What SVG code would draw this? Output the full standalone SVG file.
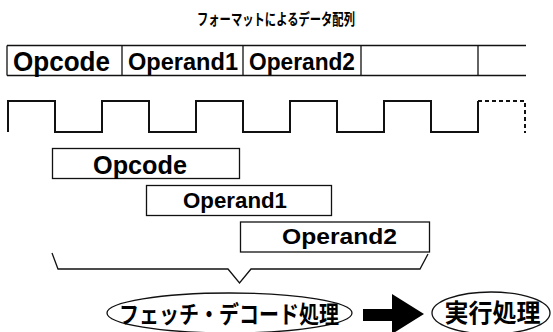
<svg xmlns="http://www.w3.org/2000/svg" width="553" height="332" viewBox="0 0 553 332">
  <style>
    .box { fill: #fff; stroke: #111; stroke-width: 1.3; }
    .lat { font-family: "Liberation Sans", Arial, sans-serif; font-weight: bold; fill: #000; }
    .jp { font-family: "Noto Sans CJK JP", "Noto Sans", sans-serif; font-weight: bold; fill: #000; }
    .wave { fill: none; stroke: #111; stroke-width: 2; }
    .line { fill: none; stroke: #111; stroke-width: 1.3; }
  </style>
  <rect width="553" height="332" fill="#fff"/>

  <!-- title -->
  <g id="title">
    <text class="jp" x="276" y="24.5" font-size="15.5" text-anchor="middle" textLength="158" lengthAdjust="spacingAndGlyphs">フォーマットによるデータ配列</text>
  </g>

  <!-- data format row -->
  <g id="format-row">
    <path class="line" d="M7,45.5 H526 M7,75.5 H526 M7,45.5 V75.5 M122,45.5 V75.5 M243,45.5 V75.5 M361,45.5 V75.5 M478,45.5 V75.5"/>
    <text class="lat" x="13" y="71" font-size="27" textLength="97" lengthAdjust="spacingAndGlyphs">Opcode</text>
    <text class="lat" x="128" y="69.5" font-size="24" textLength="110" lengthAdjust="spacingAndGlyphs">Operand1</text>
    <text class="lat" x="249" y="69.5" font-size="24" textLength="106" lengthAdjust="spacingAndGlyphs">Operand2</text>
  </g>

  <!-- clock waveform -->
  <g id="clock">
    <path class="wave" d="M8,132 V101 H55 V132 H102 V101 H149 V132 H196 V101 H243 V132 H290 V101 H337 V132 H384 V101 H431 V132 H478 V101"/>
    <path class="wave" d="M478,101 H525 V133" stroke-dasharray="4,3"/>
  </g>

  <!-- pipeline stages -->
  <g id="stage-opcode">
    <rect class="box" x="52.5" y="148.5" width="187" height="30"/>
    <text class="lat" x="93" y="173.5" font-size="25" textLength="94" lengthAdjust="spacingAndGlyphs">Opcode</text>
  </g>
  <g id="stage-operand1">
    <rect class="box" x="146.5" y="185.5" width="185" height="30"/>
    <text class="lat" x="183" y="207.5" font-size="22" textLength="104" lengthAdjust="spacingAndGlyphs">Operand1</text>
  </g>
  <g id="stage-operand2">
    <rect class="box" x="240.5" y="222" width="189" height="30"/>
    <text class="lat" x="282" y="244" font-size="22" textLength="115" lengthAdjust="spacingAndGlyphs">Operand2</text>
  </g>

  <!-- connectors -->
  <g id="connectors">
    <path class="line" d="M52,253 L58,269 H228 L239.5,283 L251,269 H420 L428,254"/>
    <path fill="#000" d="M363,309 H392 V294 L424,314 L392,334 V321 H363 Z"/>
  </g>

  <!-- processing phases -->
  <g id="fetch-decode">
    <ellipse class="line" cx="229.5" cy="313" rx="122.5" ry="20"/>
    <text class="jp" x="229" y="322.5" font-size="24" text-anchor="middle" textLength="220" lengthAdjust="spacingAndGlyphs">フェッチ・デコード処理</text>
  </g>
  <g id="execute">
    <ellipse class="line" cx="491" cy="313" rx="59" ry="21"/>
    <text class="jp" x="492.5" y="322" font-size="25" text-anchor="middle" textLength="96" lengthAdjust="spacingAndGlyphs">実行処理</text>
  </g>
</svg>
